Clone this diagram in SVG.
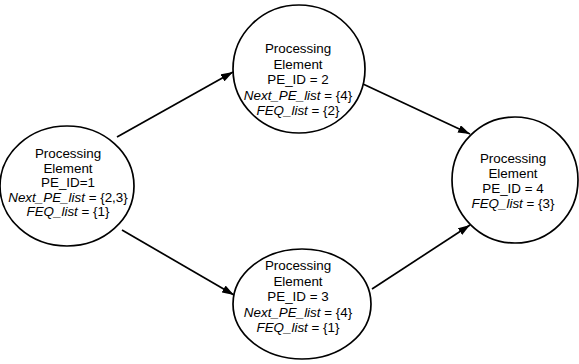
<svg xmlns="http://www.w3.org/2000/svg" width="579" height="364" viewBox="0 0 579 364">
<defs>
<marker id="arr" viewBox="0 0 12 8" refX="12" refY="4" markerWidth="12" markerHeight="8" markerUnits="userSpaceOnUse" orient="auto">
<path d="M0,0 L12,4 L0,8 Z" fill="#000"/>
</marker>
<style>
.node ellipse{fill:#fff;stroke:#000;stroke-width:1.7}
.node text{font-family:"Liberation Sans",Arial,sans-serif;font-size:13.4px;fill:#000;text-anchor:middle}
.it{font-style:italic}
.edges line{stroke:#000;stroke-width:1.7;marker-end:url(#arr)}
</style>
</defs>
<rect width="579" height="364" fill="#fff"/>
<g class="edges">
<line x1="117" y1="137" x2="233" y2="72"/>
<line x1="122" y1="230" x2="234" y2="295"/>
<line x1="363" y1="84" x2="470" y2="134"/>
<line x1="372" y1="289" x2="470" y2="225"/>
</g>
<g id="pe1" class="node">
<ellipse cx="67" cy="186" rx="67" ry="60"/>
<text x="68" y="158">Processing</text>
<text x="68" y="172.5">Element</text>
<text x="68" y="187">PE_ID=1</text>
<text x="68" y="201.5"><tspan class="it">Next_PE_list</tspan> = {2,3}</text>
<text x="68" y="216"><tspan class="it">FEQ_list</tspan> = {1}</text>
</g>
<g id="pe2" class="node">
<ellipse cx="299" cy="69" rx="66" ry="64"/>
<text x="298" y="53">Processing</text>
<text x="298" y="68.5">Element</text>
<text x="298" y="84">PE_ID = 2</text>
<text x="298" y="99.5"><tspan class="it">Next_PE_list</tspan> = {4}</text>
<text x="298" y="115"><tspan class="it">FEQ_list</tspan> = {2}</text>
</g>
<g id="pe3" class="node">
<ellipse cx="302" cy="304" rx="69" ry="55"/>
<text x="298" y="270">Processing</text>
<text x="298" y="285.5">Element</text>
<text x="298" y="301">PE_ID = 3</text>
<text x="298" y="316.5"><tspan class="it">Next_PE_list</tspan> = {4}</text>
<text x="298" y="332"><tspan class="it">FEQ_list</tspan> = {1}</text>
</g>
<g id="pe4" class="node">
<ellipse cx="515" cy="180" rx="63" ry="63"/>
<text x="513" y="163">Processing</text>
<text x="513" y="178">Element</text>
<text x="513" y="193">PE_ID = 4</text>
<text x="513" y="208"><tspan class="it">FEQ_list</tspan> = {3}</text>
</g>
</svg>
